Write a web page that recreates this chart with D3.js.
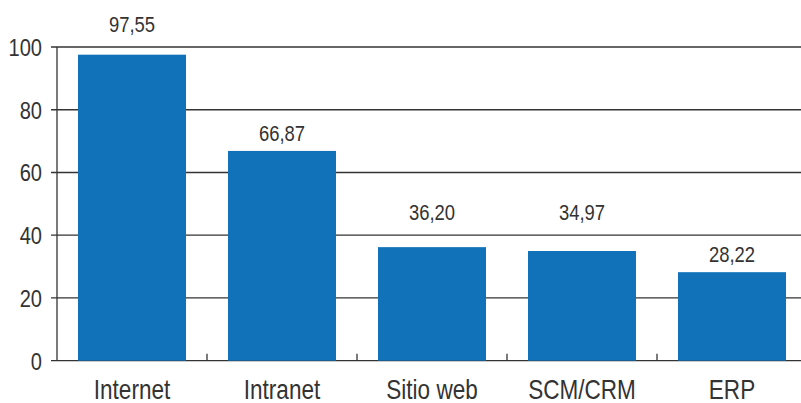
<!DOCTYPE html>
<html>
<head>
<meta charset="utf-8">
<script src="https://cdn.jsdelivr.net/npm/d3@7"></script>
<style>
  html, body { margin: 0; padding: 0; background: #fff; }
  svg { display: block; }
  text { font-family: "Liberation Sans", Arial, sans-serif; fill: #333; }
</style>
</head>
<body>
<svg id="chart" width="801" height="403"></svg>
<script>
const categories = ["Internet", "Intranet", "Sitio web", "SCM/CRM", "ERP"];
const values = [97.55, 66.87, 36.20, 34.97, 28.22];
const valueLabels = ["97,55", "66,87", "36,20", "34,97", "28,22"];
const yTicks = [0, 20, 40, 60, 80, 100];

const svg = d3.select("#chart");
const W = 801, H = 403;
const m = { left: 57, top: 47 };
const plotBottom = 360.7;
const narrow = 0.82; // emulate a condensed face

const x = d3.scaleBand().domain(categories).range([m.left, m.left + 750])
  .paddingInner(0.28).paddingOuter(0.14);
const y = d3.scaleLinear().domain([0, 100]).range([plotBottom, m.top]);

// gridlines
svg.append("g").selectAll("line").data(yTicks).join("line")
  .attr("x1", m.left - 6).attr("x2", W)
  .attr("y1", d => y(d)).attr("y2", d => y(d))
  .attr("stroke", "#333").attr("stroke-width", 1.3);

// y axis line
svg.append("line")
  .attr("x1", m.left).attr("x2", m.left)
  .attr("y1", y(100)).attr("y2", plotBottom)
  .attr("stroke", "#333").attr("stroke-width", 1.3);

// y tick labels
svg.append("g").selectAll("text").data(yTicks).join("text")
  .attr("transform", d => `translate(${m.left - 15},${y(d)}) scale(${narrow},1)`)
  .attr("dy", "0.36em")
  .attr("text-anchor", "end")
  .style("font-size", "24.5px")
  .text(d => d);

// bars
svg.append("g").selectAll("rect").data(values).join("rect")
  .attr("x", (d, i) => x(categories[i]))
  .attr("width", x.bandwidth())
  .attr("y", d => y(d))
  .attr("height", d => plotBottom - y(d))
  .attr("fill", "#1172BA");

// category separator ticks
const sepData = categories.slice(1);
svg.append("g").selectAll("line").data(sepData).join("line")
  .attr("x1", d => x(d) - x.step() * x.paddingInner() / 2)
  .attr("x2", d => x(d) - x.step() * x.paddingInner() / 2)
  .attr("y1", plotBottom - 7).attr("y2", plotBottom)
  .attr("stroke", "#333").attr("stroke-width", 1.3);

// x category labels
svg.append("g").selectAll("text").data(categories).join("text")
  .attr("transform", d => `translate(${x(d) + x.bandwidth() / 2},398.5) scale(${narrow},1)`)
  .attr("text-anchor", "middle")
  .style("font-size", "27.5px")
  .text(d => d);

// value labels (kept clear of gridlines)
function labelBaseline(v) {
  const nextTick = yTicks.find(t => t > v);
  const yb = y(v);
  if (nextTick !== undefined && yb - y(nextTick) < 30) {
    return y(nextTick) - 15;
  }
  return yb - 10;
}
svg.append("g").selectAll("text").data(values).join("text")
  .attr("transform", (d, i) => `translate(${x(categories[i]) + x.bandwidth() / 2},${labelBaseline(d)}) scale(${narrow},1)`)
  .attr("text-anchor", "middle")
  .style("font-size", "22.5px")
  .text((d, i) => valueLabels[i]);
</script>
</body>
</html>
